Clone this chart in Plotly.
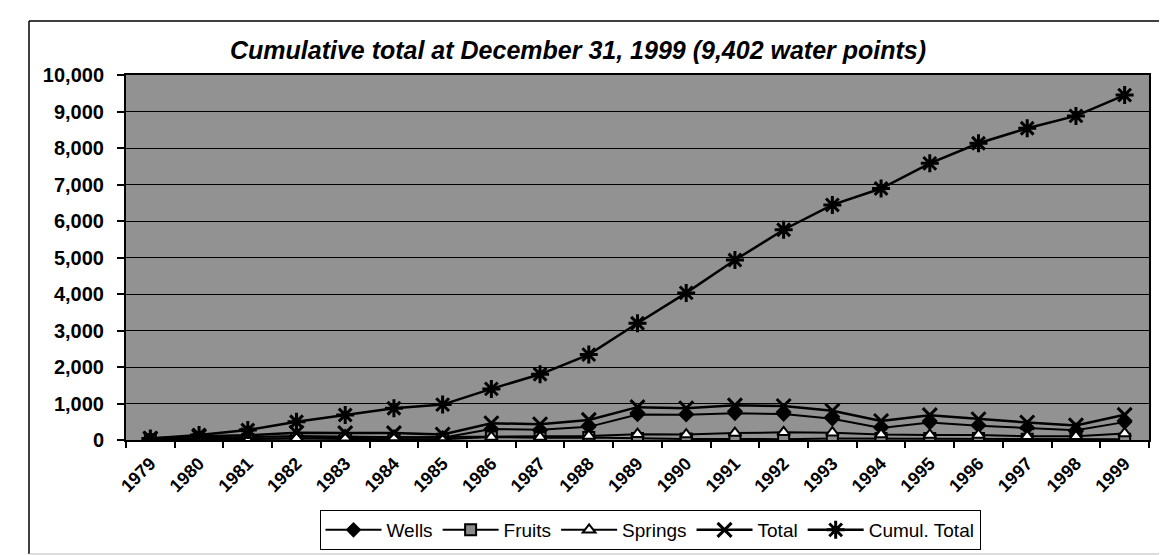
import plotly.graph_objects as go

years = [str(y) for y in range(1979, 2000)]
wells = [20, 60, 80, 110, 100, 90, 60, 300, 280, 360, 700, 690, 730, 710, 580, 330, 480, 390, 340, 270, 490]
fruits = [5, 20, 20, 40, 30, 30, 20, 80, 60, 70, 40, 30, 30, 20, 40, 40, 40, 40, 20, 20, 20]
springs = [15, 20, 30, 50, 60, 70, 70, 80, 80, 110, 160, 150, 190, 210, 200, 150, 140, 140, 100, 100, 180]
total = [40, 100, 130, 200, 190, 190, 150, 460, 430, 550, 900, 870, 950, 930, 800, 520, 680, 570, 480, 400, 690]
cumul = [40, 140, 275, 500, 685, 870, 970, 1400, 1800, 2340, 3200, 4030, 4930, 5760, 6440, 6890, 7580, 8130, 8540, 8880, 9450]

title_text = "Cumulative total at December 31, 1999 (9,402 water points)"

W, H = 1167, 555
L, R, T, B = 118, 26, 67, 123
PW, PH = W - L - R, H - T - B

def px(x):
    return (x - L) / PW

def py(y):
    return (H - B - y) / PH

FONT = "Liberation Sans, Arial, sans-serif"
NARROW = "Liberation Sans Narrow, Arial Narrow, Liberation Sans, Arial, sans-serif"

fig = go.Figure()
fig.add_trace(go.Scatter(x=years, y=wells, name="Wells", mode="lines+markers",
                         line=dict(color="black", width=2),
                         marker=dict(symbol="diamond", size=12, color="black")))
fig.add_trace(go.Scatter(x=years, y=fruits, name="Fruits", mode="lines+markers",
                         line=dict(color="black", width=2),
                         marker=dict(symbol="square", size=11, color="#8a8a8a",
                                     line=dict(color="black", width=2))))
fig.add_trace(go.Scatter(x=years, y=springs, name="Springs", mode="lines+markers",
                         line=dict(color="black", width=2),
                         marker=dict(symbol="triangle-up", size=11, color="white",
                                     line=dict(color="black", width=2))))
fig.add_trace(go.Scatter(x=years, y=total, name="Total", mode="lines+markers",
                         line=dict(color="black", width=2.5),
                         marker=dict(symbol="x-thin-open", size=14, color="black",
                                     line=dict(color="black", width=3))))
fig.add_trace(go.Scatter(x=years, y=cumul, name="Cumul. Total", mode="lines+markers",
                         line=dict(color="black", width=2.5),
                         marker=dict(symbol="asterisk-open", size=15, color="black",
                                     line=dict(color="black", width=3))))

fig.update_layout(
    width=W, height=H,
    margin=dict(l=L, r=R, t=T, b=B, autoexpand=False),
    paper_bgcolor="white",
    plot_bgcolor="#929292",
    title=dict(text=title_text, x=570 / W, xref="container", xanchor="center",
               y=1 - 42 / H, yref="container", yanchor="middle",
               font=dict(family=FONT, size=25, color="black", weight="bold", style="italic")),
    showlegend=True,
    legend=dict(orientation="h", x=px(642), xanchor="center", y=py(502), yanchor="top",
                bgcolor="white", bordercolor="black", borderwidth=1,
                font=dict(family=NARROW, size=19, color="black"),
                itemwidth=56, tracegroupgap=0),
    xaxis=dict(type="category", range=[-0.5, 20.5], autorange=False, automargin=False,
               tickson="boundaries", ticks="outside", ticklen=6, ticklabelstandoff=4,
               tickcolor="black", tickwidth=1.5, tickangle=-45, showgrid=False,
               showline=True, linecolor="black", linewidth=2, mirror=True,
               tickfont=dict(family=FONT, size=18, color="black", weight="bold")),
    yaxis=dict(range=[0, 10000], autorange=False, automargin=False, dtick=1000, tickformat=",",
               ticks="outside", ticklen=7, ticklabelstandoff=9,
               tickcolor="black", tickwidth=1.5, showgrid=True, gridcolor="black", gridwidth=1,
               showline=True, linecolor="black", linewidth=2, mirror=True, zeroline=False,
               tickfont=dict(family=FONT, size=20, color="black", weight="bold")),
    shapes=[
        dict(type="line", xref="paper", yref="paper", x0=px(21), x1=px(21), y0=py(13), y1=py(546),
             line=dict(color="black", width=1.5)),
        dict(type="line", xref="paper", yref="paper", x0=px(21), x1=px(1158), y0=py(13), y1=py(13),
             line=dict(color="black", width=1.5)),
        dict(type="line", xref="paper", yref="paper", x0=px(1158), x1=px(1158), y0=py(13), y1=py(546),
             line=dict(color="#bbbbbb", width=1)),
        dict(type="line", xref="paper", yref="paper", x0=px(21), x1=px(1158), y0=py(546), y1=py(546),
             line=dict(color="#bbbbbb", width=1)),
    ],
)

fig.write_html("out.html")
